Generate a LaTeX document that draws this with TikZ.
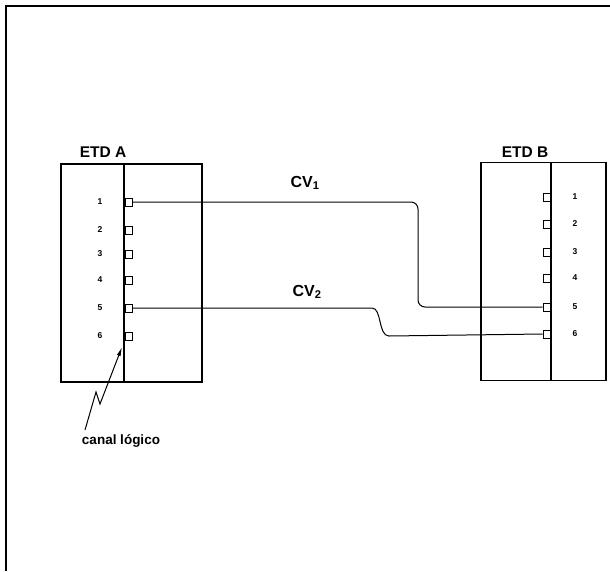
\documentclass[tikz,border=0pt]{standalone}
\usepackage{fontspec}
\setmainfont{Liberation Sans}
\usetikzlibrary{arrows.meta}
\begin{document}
\begin{tikzpicture}[x=1pt,y=-1pt,
  boxst/.style={draw,line width=1.3pt,inner sep=0pt,minimum height=218pt},
  pinst/.style={draw,line width=1pt,inner sep=0pt,minimum width=7pt,minimum height=8pt},
  numst/.style={font=\fontsize{8.5}{10}\selectfont\bfseries,inner sep=0pt},
  lblst/.style={font=\fontsize{15.5}{18}\selectfont\bfseries,inner sep=0pt},
  cvst/.style={font=\fontsize{16}{18}\selectfont\bfseries,inner sep=0pt},
  wirest/.style={line width=1pt},
  divst/.style={line width=1.3pt}]
\useasboundingbox (0,0) rectangle (610,571);
\draw[line width=2pt] (6,571) -- (6,6) -- (610,6);
% boxes
\node[boxst,minimum width=141pt] (A) at (131.5,273) {};
\node[boxst,minimum width=125pt] (B) at (543.5,271.5) {};
\draw[divst] (A.north -| 124,0) -- (A.south -| 124,0);
\draw[divst] (B.north -| 551,0) -- (B.south -| 551,0);
\node[lblst] (la) at (103,152) {ETD A};
\node[lblst] (lb) at (525,152) {ETD B};
% pins A
\foreach \i/\y in {1/202,2/230,3/254,4/280,5/308,6/336}{
  \node[pinst,anchor=west] (a\i) at (124.5,\y) {};
  \node[numst] (na\i) at (100,\y) {\i};
}
% pins B
\foreach \i/\y in {1/197,2/224,3/252,4/278,5/307,6/334}{
  \node[pinst,anchor=east] (b\i) at (550.5,\y) {};
  \node[numst] (nb\i) at (575,\y) {\i};
}
% wires
\coordinate (c1) at (418,0);
\draw[wirest,rounded corners=7pt] (a1.east) -| (c1 |- b5.west) -- (b5.west);
\coordinate (s1) at (372,308);
\coordinate (s2) at (389,336);
\draw[wirest] (a5.east) -- (s1) .. controls (382,308) and (378,336) .. (s2) -- (b6.west);
\node[cvst] (cv1) at (305,183) {CV$_{\mathbf 1}$};
\node[cvst] (cv2) at (307,292) {CV$_{\mathbf 2}$};
% canal logico
\node[font=\fontsize{13.5}{15}\selectfont\bfseries,inner sep=0pt] (cl) at (121,441) {canal lógico};
\coordinate (z0) at (85,430);
\coordinate (z1) at (96,392);
\coordinate (z2) at (100,404);
\coordinate (z3) at (122,347);
\draw[line width=1pt,-{Latex[length=9pt,width=4pt]}] (z0) -- (z1) -- (z2) -- (z3);
\end{tikzpicture}
\end{document}
